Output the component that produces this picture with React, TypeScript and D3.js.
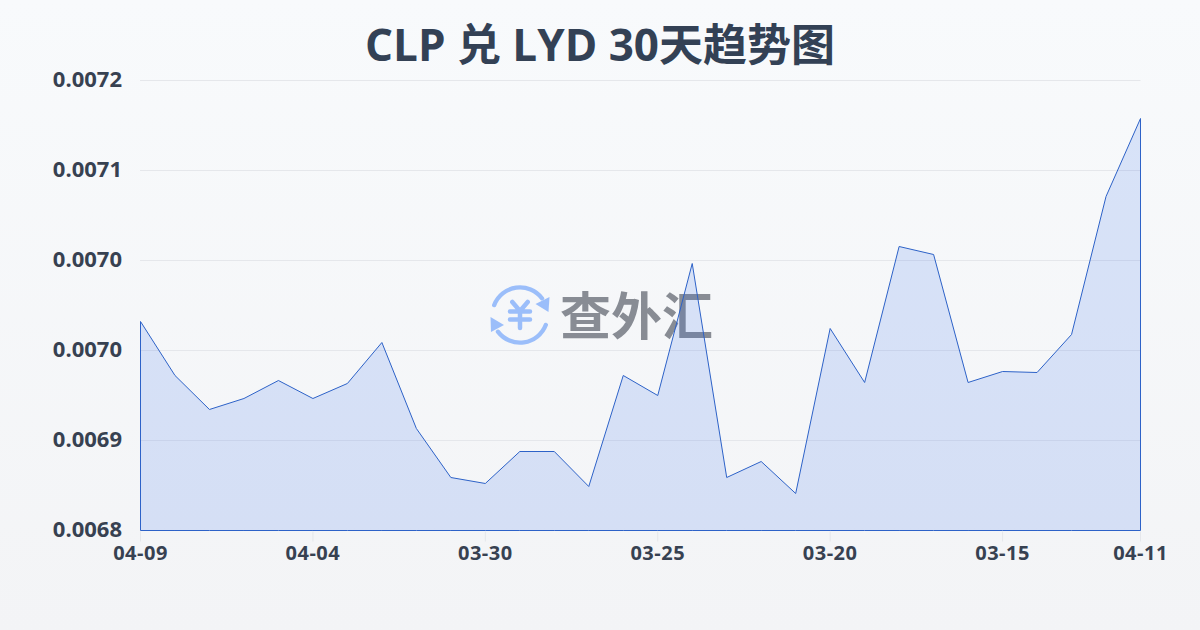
import React from 'react';
import * as d3 from 'd3';

// every day, newest first, as the source labels them (the last one really says 04-11)
const dates = [
  '04-09', '04-08', '04-07', '04-06', '04-05', '04-04', '04-03', '04-02', '04-01', '03-31',
  '03-30', '03-29', '03-28', '03-27', '03-26', '03-25', '03-24', '03-23', '03-22', '03-21',
  '03-20', '03-19', '03-18', '03-17', '03-16', '03-15', '03-14', '03-13', '03-12', '04-11',
];
const rates = [
  0.00698578, 0.00693778, 0.00690756, 0.00691733, 0.00693333, 0.00691733, 0.00693067, 0.00696711,
  0.00689067, 0.00684711, 0.00684178, 0.00687022, 0.00687022, 0.00683911, 0.00693778, 0.00692,
  0.00703733, 0.00684711, 0.00686133, 0.00683289, 0.00697956, 0.00693156, 0.00705244, 0.00704533,
  0.00693156, 0.00694133, 0.00694044, 0.00697422, 0.00709689, 0.00716622,
];
const yTicks = [0.0068, 0.00688, 0.00696, 0.00704, 0.00712, 0.0072];
const xTickDates = ['04-09', '04-04', '03-30', '03-25', '03-20', '03-15', '04-11'];

const W = 1200;
const H = 630;
const margin = { top: 80.5, right: 59.5, bottom: 99.5, left: 140.5 };
const tickFont = '"Open Sans", sans-serif';

const x = d3.scalePoint<string>().domain(dates).range([margin.left, W - margin.right]);
const y = d3.scaleLinear().domain([0.0068, 0.0072]).range([H - margin.bottom, margin.top]);
const fmt = d3.format('.4f');

const areaPath = d3
  .area<number>()
  .x((_, i) => x(dates[i]) as number)
  .y0(y(0.0068))
  .y1((d) => y(d));

// two arrows going round the yen sign
const ringArc = d3.arc().cornerRadius(2);
const ringTop = ringArc({ innerRadius: 25.5, outerRadius: 29.8, startAngle: -1.28, endAngle: 1.0 }) as string;
const ringBottom = ringArc({ innerRadius: 25.5, outerRadius: 29.8, startAngle: 1.86, endAngle: 4.14 }) as string;

const App = () => (
  <svg
    width={W}
    height={H}
    viewBox={`0 0 ${W} ${H}`}
    style={{ position: 'fixed', top: 0, left: 0 }}
  >
    <defs>
      <linearGradient id="bg" x1="0" y1="0" x2="0" y2="1">
        <stop offset="0" stopColor="#f8fafc" />
        <stop offset="1" stopColor="#f3f4f6" />
      </linearGradient>
    </defs>
    <rect width={W} height={H} fill="url(#bg)" />

    {/* watermark */}
    <g transform="translate(520,315)" fill="#9bbefa">
      <path d={ringTop} />
      <path d={ringBottom} />
      <path d="M28.5,-3 L29.5,-18 L15.5,-11 Z" />
      <path d="M-29.5,2 L-29,17 L-16,10 Z" />
      <path
        d="M-7.7,-13 L0,-4 L7.7,-13 M-10,-3.5 H10 M-10,4.5 H10 M0,-4 V13"
        fill="none"
        stroke="#9bbefa"
        strokeWidth={4.5}
        strokeLinecap="round"
        strokeLinejoin="round"
      />
    </g>
    <text
      x={560}
      y={335}
      fontFamily='"Noto Sans CJK SC", sans-serif'
      fontWeight={700}
      fontSize={51}
      fill="#888c94"
    >
      查外汇
    </text>

    <text
      x={600}
      y={61}
      textAnchor="middle"
      fontFamily='"Open Sans", "Noto Sans CJK SC", sans-serif'
      fontWeight={700}
      fontSize={44}
      fill="#334155"
    >
      CLP 兑 LYD 30天趋势图
    </text>

    {yTicks.map((t) => (
      <g key={t}>
        <line x1={margin.left - 0.5} x2={W - margin.right} y1={y(t)} y2={y(t)} stroke="#e5e7eb" strokeWidth={1} />
        <text
          x={122}
          y={y(t) + 6}
          textAnchor="end"
          fontFamily={tickFont}
          fontWeight={700}
          fontSize={22}
          fill="#374151"
        >
          {fmt(t)}
        </text>
      </g>
    ))}

    <path d={(areaPath(rates) as string) + 'Z'} fill="#2563eb" fillOpacity={0.15} stroke="none" />
    <path d={(areaPath(rates) as string) + 'Z'} fill="none" stroke="#2d62c8" strokeWidth={1} />

    {xTickDates.map((d) => (
      <g key={d}>
        <line x1={x(d)} x2={x(d)} y1={y(0.0068) + 1} y2={y(0.0068) + 11} stroke="#e5e7eb" strokeWidth={1} />
        <text
          x={x(d)}
          y={560}
          textAnchor="middle"
          fontFamily={tickFont}
          fontWeight={700}
          fontSize={20}
          letterSpacing={0.5}
          fill="#374151"
        >
          {d}
        </text>
      </g>
    ))}
  </svg>
);

export default App;
